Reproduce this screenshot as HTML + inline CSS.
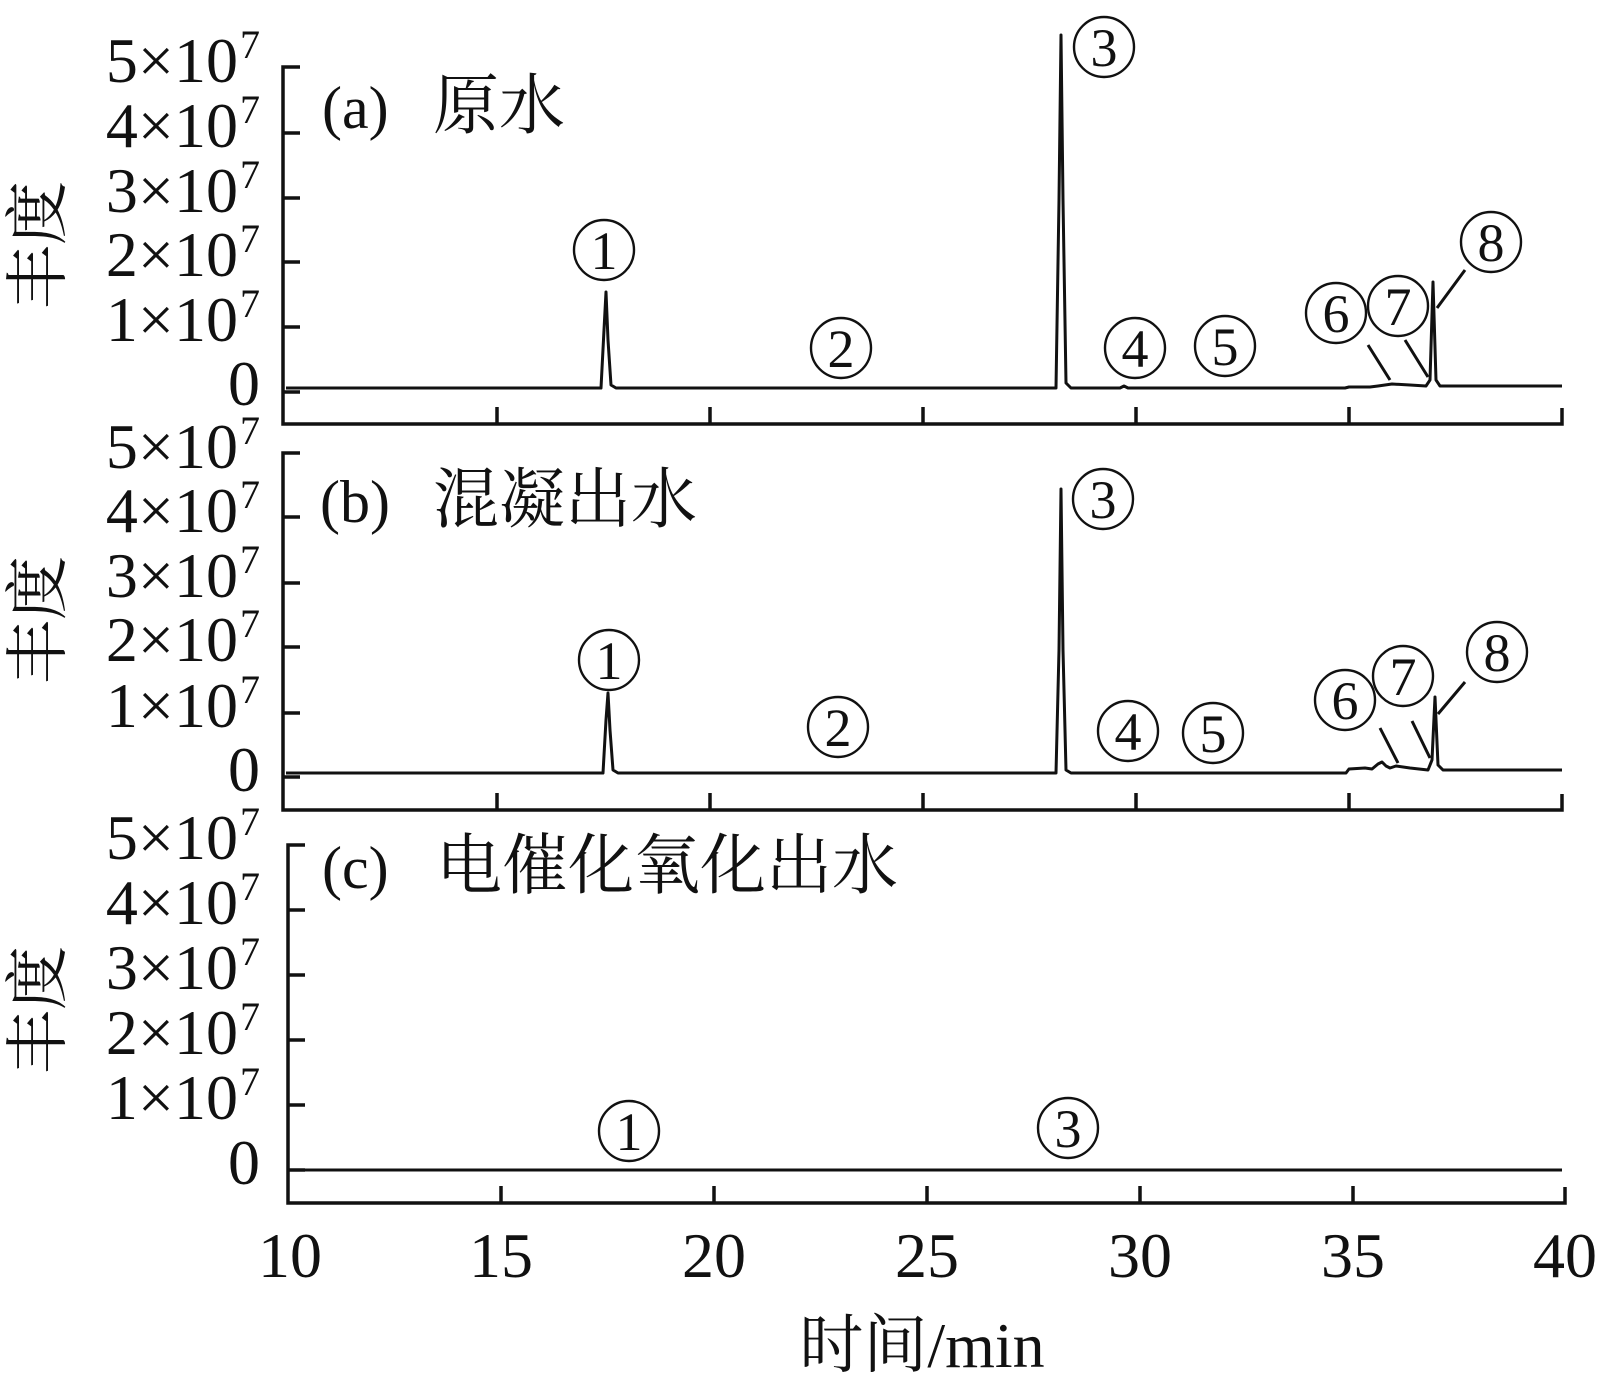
<!DOCTYPE html>
<html><head><meta charset="utf-8"><style>
html,body{margin:0;padding:0;background:#fff}
svg text{font-family:"Liberation Serif","Noto Serif CJK SC",serif;fill:#111}
</style></head><body>
<svg width="1597" height="1386" viewBox="0 0 1597 1386" xmlns="http://www.w3.org/2000/svg">
<g stroke="#111" fill="none" stroke-width="3.5">
<path d="M300,67 H283 V424 H1562 V408"/>
<path d="M283,133 H300 M283,198 H300 M283,262 H300 M283,327 H300 M283,392 H300"/>
<path d="M497,424 V407 M710,424 V407 M923,424 V407 M1136,424 V407 M1349,424 V407"/>
<path d="M300,453 H283 V810 H1562 V794"/>
<path d="M283,517 H300 M283,583 H300 M283,647 H300 M283,713 H300 M283,777 H300"/>
<path d="M497,810 V793 M710,810 V793 M923,810 V793 M1136,810 V793 M1349,810 V793"/>
<path d="M305,845 H288 V1203 H1565 V1187"/>
<path d="M288,910 H305 M288,975 H305 M288,1040 H305 M288,1105 H305 M288,1170 H305"/>
<path d="M501,1203 V1186 M714,1203 V1186 M927,1203 V1186 M1140,1203 V1186 M1353,1203 V1186"/>
</g>
<g stroke="#111" fill="none" stroke-width="3" stroke-linejoin="round">
<path d="M286,388 H601 L604,330 L606,292 L608,340 L611,385 L616,388 H1056 L1059,200 L1061,35 L1063,200 L1066,383 L1071,388 H1120 L1124,386 L1128,388 H1345 L1349,387 H1370 L1378,386 L1392,384 L1410,385 L1426,386 L1430,380 L1433,282 L1436,380 L1440,386 H1562"/>
<path d="M286,773 H603 L606,720 L608,693 L610,730 L613,770 L618,773 H1056 L1059,650 L1061,489 L1063,650 L1066,770 L1071,773 H1346 L1349,769 L1365,768 L1372,769 L1378,764 L1382,762 L1386,766 L1390,768 L1396,766 L1410,768 L1428,770 L1432,760 L1435,697 L1438,765 L1443,770 H1562"/>
<path d="M291,1170 H1562"/>
</g>
<g stroke="#111" stroke-width="3">
<path d="M1368,345 L1390,380 M1405,340 L1428,377 M1465,270 L1437,308"/>
<path d="M1380,728 L1398,763 M1412,721 L1430,758 M1465,682 L1438,714"/>
</g>
<g stroke="#111" stroke-width="2.4" fill="none">
<circle cx="604" cy="250" r="30"/><circle cx="841" cy="348" r="30"/><circle cx="1104" cy="47" r="30"/>
<circle cx="1135" cy="348" r="30"/><circle cx="1225" cy="346" r="30"/><circle cx="1336" cy="313" r="30"/>
<circle cx="1398" cy="306" r="30"/><circle cx="1491" cy="242" r="30"/>
<circle cx="609" cy="660" r="30"/><circle cx="838" cy="727" r="30"/><circle cx="1103" cy="499" r="30"/>
<circle cx="1128" cy="731" r="30"/><circle cx="1213" cy="733" r="30"/><circle cx="1345" cy="700" r="30"/>
<circle cx="1403" cy="676" r="30"/><circle cx="1497" cy="652" r="30"/>
<circle cx="629" cy="1131" r="30"/><circle cx="1068" cy="1128" r="30"/>
</g>
<g font-size="54" text-anchor="middle">
<text x="604" y="269">1</text><text x="841" y="367">2</text><text x="1104" y="66">3</text>
<text x="1135" y="367">4</text><text x="1225" y="365">5</text><text x="1336" y="332">6</text>
<text x="1398" y="325">7</text><text x="1491" y="261">8</text>
<text x="609" y="679">1</text><text x="838" y="746">2</text><text x="1103" y="518">3</text>
<text x="1128" y="750">4</text><text x="1213" y="752">5</text><text x="1345" y="719">6</text>
<text x="1403" y="695">7</text><text x="1497" y="671">8</text>
<text x="629" y="1150">1</text><text x="1068" y="1147">3</text>
</g>
<g font-size="64" text-anchor="end">
<text x="238" y="82">5×10</text><text x="238" y="147">4×10</text><text x="238" y="212">3×10</text><text x="238" y="276">2×10</text><text x="238" y="341">1×10</text><text x="260" y="405">0</text>
<text x="238" y="468">5×10</text><text x="238" y="532">4×10</text><text x="238" y="597">3×10</text><text x="238" y="661">2×10</text><text x="238" y="727">1×10</text><text x="260" y="791">0</text>
<text x="238" y="859">5×10</text><text x="238" y="924">4×10</text><text x="238" y="989">3×10</text><text x="238" y="1054">2×10</text><text x="238" y="1119">1×10</text><text x="260" y="1184">0</text>
</g>
<g font-size="40">
<text x="240" y="58">7</text><text x="240" y="123">7</text><text x="240" y="188">7</text><text x="240" y="252">7</text><text x="240" y="317">7</text>
<text x="240" y="444">7</text><text x="240" y="508">7</text><text x="240" y="573">7</text><text x="240" y="637">7</text><text x="240" y="703">7</text>
<text x="240" y="835">7</text><text x="240" y="900">7</text><text x="240" y="965">7</text><text x="240" y="1030">7</text><text x="240" y="1095">7</text>
</g>
<g font-size="64" text-anchor="middle">
<text transform="translate(60,245) rotate(-90)">丰度</text>
<text transform="translate(60,620) rotate(-90)">丰度</text>
<text transform="translate(60,1010) rotate(-90)">丰度</text>
</g>
<g font-size="60">
<text x="322" y="128">(a)</text><text x="320" y="522">(b)</text><text x="322" y="888">(c)</text>
</g>
<g font-size="66">
<text x="433" y="128">原水</text>
<text x="433" y="522">混凝出水</text>
<text x="436" y="888">电催化氧化出水</text>
</g>
<g font-size="64" text-anchor="middle">
<text x="290" y="1277">10</text><text x="501" y="1277">15</text><text x="714" y="1277">20</text><text x="927" y="1277">25</text><text x="1140" y="1277">30</text><text x="1353" y="1277">35</text><text x="1565" y="1277">40</text>
</g>
<text x="922" y="1367" font-size="64" text-anchor="middle">时间/min</text>
</svg>
</body></html>
